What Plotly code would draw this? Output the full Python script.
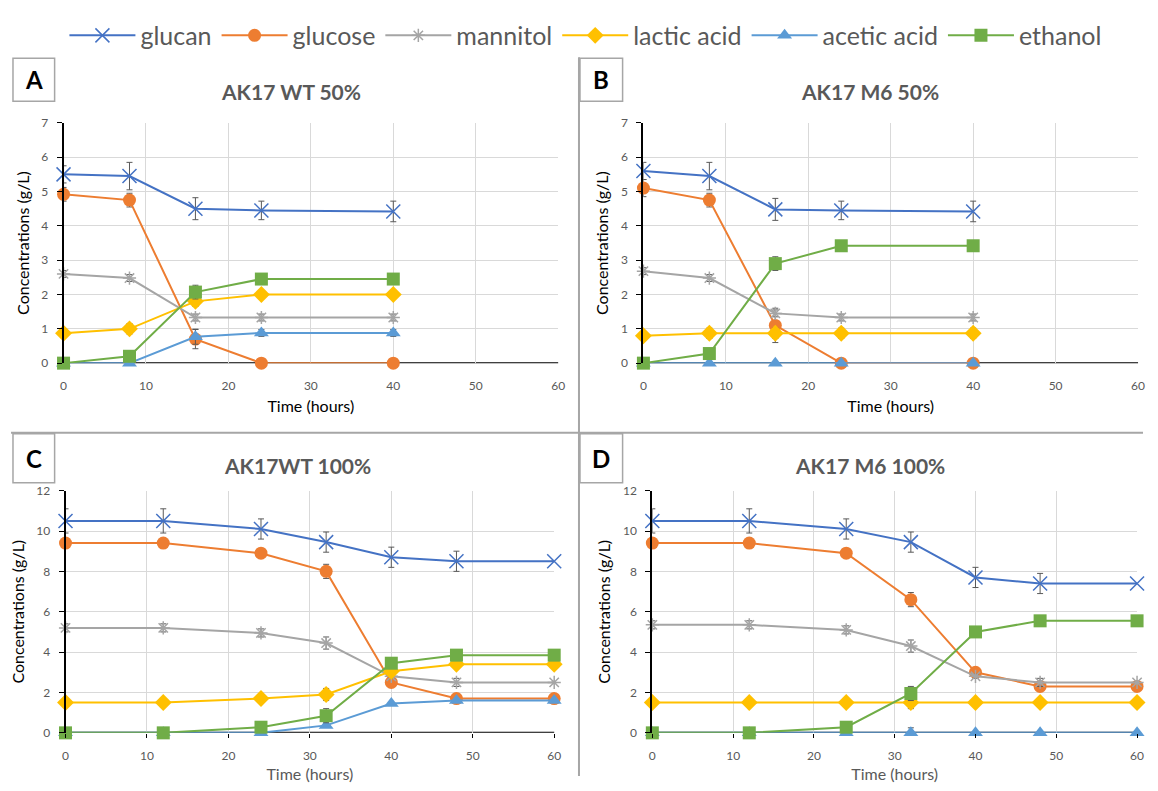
import plotly.graph_objects as go

# ---------------- data ----------------
series_names = ["glucan", "glucose", "mannitol", "lactic acid", "acetic acid", "ethanol"]
colors = ["#4472C4", "#ED7D31", "#A5A5A5", "#FFC000", "#5B9BD5", "#70AD47"]
symbols = ["x-thin", "circle", "asterisk-open", "diamond", "triangle-up", "square"]

time_50 = [0, 8, 16, 24, 40]
time_100 = [0, 12, 24, 32, 40, 48, 60]

# Panel A: AK17 WT 50%
a_glucan = [5.5, 5.45, 4.5, 4.45, 4.42]
a_glucose = [4.92, 4.75, 0.7, 0.0, 0.0]
a_mannitol = [2.6, 2.48, 1.33, 1.33, 1.33]
a_lactic = [0.87, 1.0, 1.8, 2.0, 2.0]
a_acetic = [0.0, 0.0, 0.77, 0.88, 0.88]
a_ethanol = [0.0, 0.2, 2.07, 2.45, 2.45]
a_glucan_err = [0.25, 0.4, 0.32, 0.27, 0.3]
a_glucose_err = [0.2, 0.2, 0.28, 0.0, 0.0]
a_mannitol_err = [0.1, 0.1, 0.1, 0.1, 0.1]
a_lactic_err = [0.1, 0.15, 0.15, 0.12, 0.12]
a_acetic_err = [0.0, 0.0, 0.22, 0.1, 0.1]
a_ethanol_err = [0.0, 0.05, 0.2, 0.05, 0.05]

# Panel B: AK17 M6 50%
b_glucan = [5.6, 5.45, 4.48, 4.45, 4.42]
b_glucose = [5.1, 4.75, 1.1, 0.0, 0.0]
b_mannitol = [2.68, 2.48, 1.45, 1.33, 1.33]
b_lactic = [0.8, 0.87, 0.87, 0.87, 0.87]
b_acetic = [0.0, 0.0, 0.0, 0.0, 0.0]
b_ethanol = [0.0, 0.28, 2.9, 3.42, 3.42]
b_glucan_err = [0.25, 0.4, 0.32, 0.27, 0.3]
b_glucose_err = [0.25, 0.2, 0.5, 0.0, 0.0]
b_mannitol_err = [0.1, 0.1, 0.1, 0.1, 0.1]
b_lactic_err = [0.1, 0.15, 0.15, 0.15, 0.15]
b_acetic_err = [0.0, 0.0, 0.0, 0.0, 0.0]
b_ethanol_err = [0.0, 0.0, 0.2, 0.0, 0.0]

# Panel C: AK17WT 100%
c_glucan = [10.5, 10.5, 10.1, 9.45, 8.7, 8.5, 8.5]
c_glucose = [9.4, 9.4, 8.9, 8.0, 2.5, 1.7, 1.7]
c_mannitol = [5.2, 5.2, 4.95, 4.45, 2.8, 2.5, 2.5]
c_lactic = [1.5, 1.5, 1.7, 1.9, 3.05, 3.4, 3.4]
c_acetic = [0.0, 0.0, 0.0, 0.37, 1.45, 1.6, 1.6]
c_ethanol = [0.0, 0.0, 0.28, 0.85, 3.45, 3.85, 3.85]
c_glucan_err = [0.6, 0.6, 0.5, 0.5, 0.5, 0.5, 0.0]
c_glucose_err = [0.0, 0.0, 0.0, 0.35, 0.0, 0.0, 0.0]
c_mannitol_err = [0.2, 0.2, 0.2, 0.3, 0.1, 0.2, 0.0]
c_lactic_err = [0.0, 0.0, 0.0, 0.3, 0.0, 0.0, 0.0]
c_acetic_err = [0.0, 0.0, 0.0, 0.0, 0.0, 0.0, 0.0]
c_ethanol_err = [0.0, 0.0, 0.0, 0.35, 0.0, 0.0, 0.0]

# Panel D: AK17 M6 100%
d_glucan = [10.5, 10.5, 10.1, 9.45, 7.7, 7.4, 7.4]
d_glucose = [9.4, 9.4, 8.9, 6.6, 3.0, 2.3, 2.3]
d_mannitol = [5.35, 5.35, 5.1, 4.3, 2.8, 2.5, 2.5]
d_lactic = [1.5, 1.5, 1.5, 1.5, 1.5, 1.5, 1.5]
d_acetic = [0.0, 0.0, 0.0, 0.0, 0.0, 0.0, 0.0]
d_ethanol = [0.0, 0.0, 0.28, 1.95, 5.0, 5.55, 5.55]
d_glucan_err = [0.6, 0.6, 0.5, 0.5, 0.5, 0.5, 0.0]
d_glucose_err = [0.0, 0.0, 0.0, 0.35, 0.0, 0.0, 0.0]
d_mannitol_err = [0.2, 0.2, 0.2, 0.3, 0.1, 0.2, 0.0]
d_lactic_err = [0.0, 0.0, 0.0, 0.3, 0.0, 0.0, 0.0]
d_acetic_err = [0.0, 0.0, 0.0, 0.25, 0.0, 0.0, 0.0]
d_ethanol_err = [0.0, 0.0, 0.0, 0.35, 0.0, 0.0, 0.0]

panel_titles = ["AK17 WT 50%", "AK17 M6 50%", "AK17WT 100%", "AK17 M6 100%"]
panel_letters = ["A", "B", "C", "D"]

panels = [
    (time_50, [a_glucan, a_glucose, a_mannitol, a_lactic, a_acetic, a_ethanol],
     [a_glucan_err, a_glucose_err, a_mannitol_err, a_lactic_err, a_acetic_err, a_ethanol_err]),
    (time_50, [b_glucan, b_glucose, b_mannitol, b_lactic, b_acetic, b_ethanol],
     [b_glucan_err, b_glucose_err, b_mannitol_err, b_lactic_err, b_acetic_err, b_ethanol_err]),
    (time_100, [c_glucan, c_glucose, c_mannitol, c_lactic, c_acetic, c_ethanol],
     [c_glucan_err, c_glucose_err, c_mannitol_err, c_lactic_err, c_acetic_err, c_ethanol_err]),
    (time_100, [d_glucan, d_glucose, d_mannitol, d_lactic, d_acetic, d_ethanol],
     [d_glucan_err, d_glucose_err, d_mannitol_err, d_lactic_err, d_acetic_err, d_ethanol_err]),
]

# ---------------- layout geometry (page pixels) ----------------
OFF = 8                              # default page body margin
W, H = 1158 - 2 * OFF, 791 - 2 * OFF  # figure fits the window without scrolling
FONT = "Lato"
# (x at 0, x at 60, y top, y bottom) in page pixels
geom = [(61, 560, 117, 362), (646, 1145, 117, 362), (63, 556, 492, 739), (655, 1144, 492, 739)]
title_pos = [(290, 85), (875, 85), (297, 466), (875, 466)]
y_max = [7, 7, 12, 12]
y_dtick = [1, 1, 2, 2]
xtitle_color = ["#000000", "#000000", "#595959", "#595959"]
xlabel_standoff = [14, 14, 8, 8]

def px(x):
    return (x - OFF) / W

def py(y):
    return 1 - (y - OFF) / H

fig = go.Figure()
marker_sizes = [14, 13, 11, 13, 13, 13]

for p, (t, vals, errs) in enumerate(panels):
    ax = "" if p == 0 else str(p + 1)
    for i in range(6):
        sym = symbols[i]
        mline = dict(width=1.5, color=colors[i]) if sym in ("x-thin", "asterisk-open") else dict(width=0)
        fig.add_trace(go.Scatter(
            x=t, y=vals[i], mode="lines+markers", name=series_names[i],
            legendgroup=series_names[i], showlegend=(p == 0), cliponaxis=False,
            line=dict(color=colors[i], width=2),
            marker=dict(symbol=sym, size=marker_sizes[i], color=colors[i], line=mline),
            error_y=dict(type="data", array=errs[i], visible=True, color="#595959", thickness=1, width=3),
            xaxis="x" + ax, yaxis="y" + ax,
        ))
    x0, x1, yt, yb = geom[p]
    fig.layout["xaxis" + ax] = dict(
        domain=[px(x0), px(x1)], range=[0, 60], dtick=10, anchor="y" + ax,
        showgrid=True, gridcolor="#D9D9D9", gridwidth=1, zeroline=False,
        showline=False,
        ticks="outside" if p >= 2 else "", ticklen=4, tickcolor="#000000", tickwidth=1,
        ticklabelstandoff=xlabel_standoff[p],
        tickfont=dict(family=FONT, size=12, color="#595959"),
        title=dict(text="Time (hours)", font=dict(family=FONT, size=16, color=xtitle_color[p]), standoff=8),
    )
    fig.layout["yaxis" + ax] = dict(
        domain=[py(yb), py(yt)], range=[0, y_max[p]], dtick=y_dtick[p], anchor="x" + ax,
        showgrid=True, gridcolor="#D9D9D9", gridwidth=1, zeroline=False,
        showline=True, linecolor="#000000", linewidth=2, ticks="outside", ticklen=5,
        tickcolor="#000000", tickwidth=1, ticklabelstandoff=6,
        tickfont=dict(family=FONT, size=12, color="#595959"),
        title=dict(text="Concentrations (g/L)", font=dict(family=FONT, size=16, color="#000000"), standoff=8),
    )
    # x axis baseline at y=0
    fig.add_shape(type="line", xref="x" + ax + " domain", yref="y" + ax,
                  x0=0, x1=1, y0=0, y1=0, line=dict(color="#000000", width=2), layer="below")
    # panel title
    tx, ty = title_pos[p]
    fig.add_annotation(text="<b>" + panel_titles[p] + "</b>", xref="paper", yref="paper",
                       x=px(tx), y=py(ty), xanchor="center", yanchor="middle", showarrow=False,
                       font=dict(family=FONT, size=21, color="#595959"))

# panel letter boxes
boxes = [(10, 51, 52, 95), (582, 51, 625, 95), (10, 434, 52, 484), (582, 434, 625, 484)]
for (bx0, by0, bx1, by1), letter in zip(boxes, panel_letters):
    fig.add_shape(type="rect", xref="paper", yref="paper", x0=px(bx0), x1=px(bx1), y0=py(by1), y1=py(by0),
                  line=dict(color="#A6A6A6", width=1.5), fillcolor="white")
    fig.add_annotation(text="<b>" + letter + "</b>", xref="paper", yref="paper",
                       x=px((bx0 + bx1) / 2), y=py((by0 + by1) / 2), xanchor="center", yanchor="middle",
                       showarrow=False, font=dict(family=FONT, size=24, color="#000000"))

# dividers
fig.add_shape(type="line", xref="paper", yref="paper", x0=px(581), x1=px(581), y0=py(50), y1=0,
              line=dict(color="#A6A6A6", width=2))
fig.add_shape(type="line", xref="paper", yref="paper", x0=0, x1=1, y0=py(433), y1=py(433),
              line=dict(color="#A6A6A6", width=2))

fig.update_layout(
    width=W, height=H, margin=dict(l=0, r=0, t=0, b=0),
    paper_bgcolor="white", plot_bgcolor="white",
    font=dict(family=FONT),
    legend=dict(orientation="h", x=px(588), xanchor="center", y=py(28), yanchor="middle",
                font=dict(family=FONT, size=25, color="#595959"), itemwidth=66,
                bgcolor="rgba(0,0,0,0)", tracegroupgap=0),
)

fig.write_html("out.html")
